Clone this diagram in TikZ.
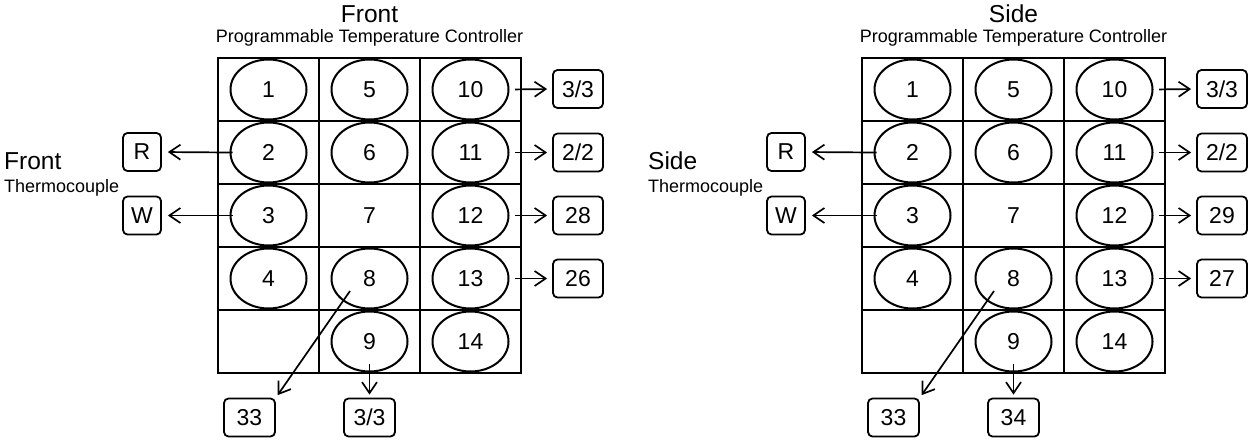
\documentclass[tikz,border=0pt]{standalone}
\usepackage{fontspec}
\setmainfont{Liberation Sans}
\usetikzlibrary{arrows.meta,shapes.geometric}
\tikzset{
 cell/.style={draw, line width=2.3pt},
 well/.style={ellipse, draw, line width=2pt, minimum width=76pt, minimum height=60pt, inner sep=0pt, font=\fontsize{23}{27}\selectfont},
 plain/.style={inner sep=0pt, font=\fontsize{23}{27}\selectfont},
 bigtitle/.style={inner sep=0pt, font=\fontsize{24.5}{29}\selectfont},
 subtitle/.style={inner sep=0pt, font=\fontsize{18}{21}\selectfont},
 tag/.style={draw, rounded corners=4.5pt, line width=1.8pt, minimum height=38pt, inner sep=0pt, font=\fontsize{23}{27}\selectfont},
 link/.style={line width=1.7pt, -{Straight Barb[length=11pt,width=15pt]}},
}
\newcommand{\tcpanel}[8]{%
\begin{scope}[xshift=#2]
 \node[bigtitle,anchor=base] (#1title) at (369.5,22) {#3};
 \node[subtitle,anchor=base] (#1ptc) at (369.5,42.7) {Programmable Temperature Controller};
 \node[bigtitle,anchor=base west] (#1side) at (4,169.3) {#3};
 \node[subtitle,anchor=base west] (#1tc) at (4,192.7) {Thermocouple};
 \draw[cell] (218,58) rectangle (521,373);
 \foreach \gx in {319,420} {\draw[cell] (\gx,58) -- (\gx,373);}
 \foreach \gy in {121,184,247,310} {\draw[cell] (218,\gy) -- (521,\gy);}
 \node[well] (#1e1) at (268.5,89.5) {1};
 \node[well] (#1e2) at (268.5,152.5) {2};
 \node[well] (#1e3) at (268.5,215.5) {3};
 \node[well] (#1e4) at (268.5,278.5) {4};
 \node[well] (#1e5) at (369.5,89.5) {5};
 \node[well] (#1e6) at (369.5,152.5) {6};
 \node[plain] (#1e7) at (369.5,215.5) {7};
 \node[well] (#1e8) at (369.5,278.5) {8};
 \node[well] (#1e9) at (369.5,341.5) {9};
 \node[well] (#1e10) at (470.5,89.5) {10};
 \node[well] (#1e11) at (470.5,152.5) {11};
 \node[well] (#1e12) at (470.5,215.5) {12};
 \node[well] (#1e13) at (470.5,278.5) {13};
 \node[well] (#1e14) at (470.5,341.5) {14};
 \node[tag,minimum width=38pt] (#1R) at (142,152) {R};
 \node[tag,minimum width=38pt] (#1W) at (142,215.5) {W};
 \node[tag,minimum width=50pt] (#1o1) at (578,89) {#4};
 \node[tag,minimum width=50pt] (#1o2) at (578,152.5) {#5};
 \node[tag,minimum width=50pt] (#1o3) at (578,215.5) {#6};
 \node[tag,minimum width=50pt] (#1o4) at (578,278.5) {#7};
 \node[tag,minimum width=51pt] (#1b1) at (249.5,417.5) {33};
 \node[tag,minimum width=51pt] (#1b2) at (369.5,417.5) {#8};
 \draw[link,shorten <=-3pt,shorten >=6pt] (#1e2.west) -- (#1R.east);
 \draw[link,shorten <=-3pt,shorten >=6pt] (#1e3.west) -- (#1W.east);
 \draw[link,shorten <=5.5pt,shorten >=5pt] (#1e10.east) -- (#1o1.west);
 \draw[link,shorten <=5.5pt,shorten >=5pt] (#1e11.east) -- (#1o2.west);
 \draw[link,shorten <=5.5pt,shorten >=5pt] (#1e12.east) -- (#1o3.west);
 \draw[link,shorten <=5.5pt,shorten >=5pt] (#1e13.east) -- (#1o4.west);
 \draw[link,shorten <=-8.5pt,shorten >=3pt] (#1e9.south) -- (#1b2.north);
 \draw[link,shorten >=3pt] ([xshift=-19.5pt,yshift=-12.5pt]#1e8.center) -- (#1b1.north east);
\end{scope}}
\begin{document}
\begin{tikzpicture}[x=1pt,y=-1pt]
 \useasboundingbox (0,0) rectangle (1250,439);
 \tcpanel{f}{0pt}{Front}{3/3}{2/2}{28}{26}{3/3}
 \tcpanel{s}{644pt}{Side}{3/3}{2/2}{29}{27}{34}
\end{tikzpicture}
\end{document}
